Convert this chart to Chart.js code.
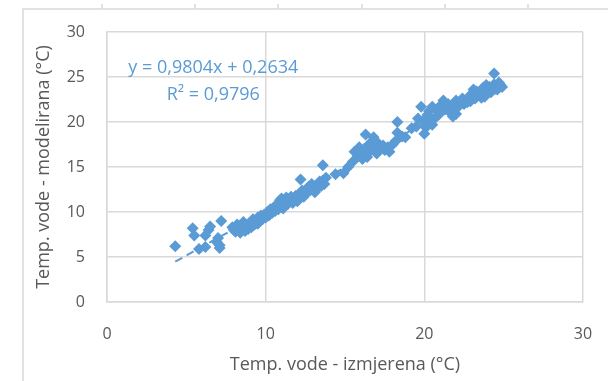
<!DOCTYPE html>
<html>
<head>
<meta charset="utf-8">
<script src="https://cdn.jsdelivr.net/npm/chart.js@4.4.1/dist/chart.umd.min.js"></script>
<style>
  html, body { margin: 0; padding: 0; background: #fff; }
  #wrap { width: 608px; height: 381px; position: relative; }
</style>
</head>
<body>
<div id="wrap"><canvas id="grafico" width="608" height="381"></canvas></div>
<script>
// izmjerena (x) i modelirana (y) temperatura vode
var izmjerena = [
  4.3, 5.4, 5.5, 5.8, 6.2, 6.2, 6.4, 6.5, 6.9, 7.0, 7.1, 7.2, 7.1,
  7.9, 8.0, 8.1, 8.2, 8.4, 8.5, 8.6, 8.7, 8.8, 8.9, 9.0, 9.1, 9.2, 9.3, 9.4, 9.5, 9.5, 9.6, 9.7, 9.8, 9.9, 10.0,
  10.1, 10.2, 10.3, 10.4, 10.5, 10.6, 10.7, 10.8, 10.9, 11.0, 11.0, 11.1, 11.2, 11.3, 11.4, 11.5, 11.6, 11.7, 11.8, 11.9, 12.0, 12.1, 12.2,
  12.3, 12.4, 12.2, 12.6, 12.7, 12.8, 12.9, 13.0, 13.1, 13.2, 13.3, 13.4, 13.5, 13.6, 13.6, 13.7, 13.8,
  14.4, 14.9, 15.2, 15.5,
  15.6, 15.8, 15.9, 16.0, 16.1, 16.2, 16.3, 16.4, 16.5, 16.6, 16.7, 16.8, 16.9, 17.0, 17.1, 17.2, 17.4, 17.5, 17.7, 17.8, 18.0, 18.2, 18.3, 18.3, 18.6, 18.8,
  19.2, 19.5, 19.6, 19.8, 19.9, 20.0, 20.1, 20.2, 20.3, 20.4, 20.5, 20.5, 20.7, 20.8, 20.9, 21.0, 21.2, 21.3,
  21.5, 21.6, 21.8, 21.9, 22.0, 22.0, 22.2, 22.4, 22.5, 22.7, 22.8, 22.9, 23.0, 23.1, 23.2, 23.3, 23.5, 23.6, 23.7, 23.8, 23.9, 24.0, 24.1, 24.2, 24.4, 24.4, 24.5, 24.6, 24.7, 24.8, 24.9
];
var modelirana = [
  6.2, 8.2, 7.4, 5.9, 6.1, 7.4, 8.0, 8.4, 6.7, 7.1, 6.3, 9.0, 6.0,
  8.3, 8.0, 7.8, 8.6, 7.7, 8.1, 8.9, 7.9, 8.4, 8.1, 8.8, 8.3, 9.2, 8.6, 9.0, 9.4, 8.7, 9.1, 9.6, 9.2, 9.7, 9.4,
  10.0, 9.6, 10.3, 9.9, 10.5, 10.1, 10.8, 10.3, 11.3, 10.7, 11.5, 10.4, 11.1, 11.6, 10.9, 11.3, 11.7, 11.0, 11.4, 11.8, 11.2, 11.6, 12.0,
  12.4, 11.7, 13.6, 12.2, 12.8, 12.4, 13.1, 12.6, 12.2, 13.0, 12.7, 13.4, 12.9, 13.5, 15.2, 13.1, 13.8,
  14.2, 14.3, 15.0, 15.6,
  16.7, 16.2, 17.2, 16.6, 15.9, 17.0, 18.6, 16.1, 17.5, 16.8, 17.8, 18.3, 16.9, 16.5, 17.6, 17.1, 17.4, 16.9, 17.2, 16.7, 17.5, 17.9, 18.8, 20.0, 18.4, 18.3,
  19.3, 19.5, 20.4, 21.7, 20.1, 18.7, 19.4, 20.8, 21.2, 20.0, 21.7, 19.7, 20.5, 21.3, 20.8, 21.8, 22.4, 21.4,
  22.0, 21.1, 20.6, 21.6, 22.4, 20.9, 21.8, 22.6, 22.0, 22.2, 22.8, 22.3, 23.1, 23.6, 22.6, 23.4, 23.2, 22.7, 23.8, 22.8, 24.1, 23.5, 23.9, 23.3, 25.4, 24.2, 23.7, 23.6, 24.4, 24.1, 23.9
];
var osX = [0, 10, 20, 30];
var osY = [0, 5, 10, 15, 20, 25, 30];
var nagib = 0.9804, odsjecak = 0.2634;
var jednadzba = ['y = 0,9804x + 0,2634', 'R² = 0,9796'];

var plava = '#5b9bd5';
var siva = '#595959';
var mreza = '#d9d9d9';
var font = '"Open Sans", "Noto Sans", sans-serif';

var tocke = izmjerena.map(function (v, i) { return { x: v, y: modelirana[i] }; });
var xMin = Math.min.apply(null, izmjerena), xMax = Math.max.apply(null, izmjerena);
var trend = [
  { x: xMin, y: nagib * xMin + odsjecak },
  { x: xMax, y: nagib * xMax + odsjecak }
];

// okvir oko grafikona i tekst jednadzbe
var okvir = {
  id: 'okvir',
  beforeDraw: function (chart) {
    var c = chart.ctx;
    c.save();
    c.strokeStyle = mreza;
    c.lineWidth = 1.5;
    c.beginPath();
    c.moveTo(23, 381); c.lineTo(23, 9); c.lineTo(608, 9);
    [102, 195, 278, 362, 445, 528].forEach(function (x) {
      c.moveTo(x, 9); c.lineTo(x, 4);
    });
    c.stroke();
    c.restore();
  },
  afterDraw: function (chart) {
    var c = chart.ctx;
    var sx = chart.scales.x, sy = chart.scales.y;
    c.save();
    c.fillStyle = plava;
    c.font = '18px ' + font;
    c.textAlign = 'center';
    c.textBaseline = 'middle';
    c.fillText(jednadzba[0], sx.getPixelForValue(6.7), sy.getPixelForValue(26.0));
    c.fillText(jednadzba[1], sx.getPixelForValue(6.7), sy.getPixelForValue(23.0));
    c.restore();
  }
};

// fiksne dimenzije osi, bez dodatnog razmaka za oznake
function bezRazmaka(s) {
  s.paddingTop = 0; s.paddingBottom = 0; s.paddingLeft = 0; s.paddingRight = 0;
}

var ctx = document.getElementById('grafico').getContext('2d');
var grafico = new Chart(ctx, {
  type: 'scatter',
  data: {
    datasets: [{
      label: 'Temperatura',
      data: tocke,
      pointStyle: 'rectRot',
      pointRadius: 6,
      backgroundColor: plava,
      borderColor: plava,
      borderWidth: 0,
      order: 2
    }, {
      label: 'Trend',
      type: 'line',
      data: trend,
      showLine: true,
      borderColor: plava,
      borderWidth: 2,
      borderDash: [8, 5],
      pointRadius: 0,
      fill: false,
      order: 1
    }]
  },
  options: {
    responsive: false,
    animation: false,
    layout: { padding: { top: 32, right: 25, left: 0, bottom: 0 } },
    plugins: { legend: { display: false }, tooltip: { enabled: false } },
    scales: {
      x: {
        type: 'linear',
        min: 0, max: 30,
        afterBuildTicks: function (s) { s.ticks = osX.map(function (v) { return { value: v }; }); },
        afterFit: function (s) { s.height = 79; bezRazmaka(s); },
        grid: { color: mreza, lineWidth: 1.5, drawTicks: false },
        border: { color: mreza, width: 1.5 },
        ticks: { color: siva, font: { family: font, size: 16 }, padding: 23 },
        title: {
          display: true,
          text: 'Temp. vode - izmjerena (°C)',
          color: siva,
          font: { family: font, size: 18 },
          padding: { top: 0, bottom: 5 }
        }
      },
      y: {
        type: 'linear',
        min: 0, max: 30,
        afterBuildTicks: function (s) { s.ticks = osY.map(function (v) { return { value: v }; }); },
        afterFit: function (s) { s.width = 107; bezRazmaka(s); },
        grid: { color: mreza, lineWidth: 1.5, drawTicks: false },
        border: { color: mreza, width: 1.5 },
        ticks: { color: siva, font: { family: font, size: 16 }, padding: 22 },
        title: {
          display: true,
          text: 'Temp. vode - modelirana (°C)',
          color: siva,
          font: { family: font, size: 18 },
          padding: { top: 33, bottom: 0 }
        }
      }
    }
  },
  plugins: [okvir]
});
</script>
</body>
</html>
